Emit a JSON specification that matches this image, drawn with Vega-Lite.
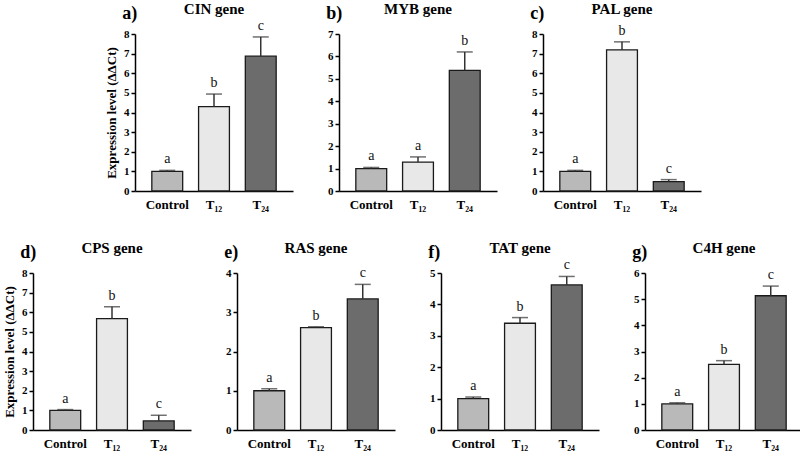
{
  "$schema": "https://vega.github.io/schema/vega-lite/v6.json",
  "padding": {"left": 3, "top": 2, "right": 2, "bottom": 2},
  "background": "white",
  "datasets": {
    "expr": [
      {"panel": "a)", "gene": "CIN gene", "treatment": "Control", "mean": 1.0, "upper": 1.05, "letter": "a"},
      {"panel": "a)", "gene": "CIN gene", "treatment": "T₁₂", "mean": 4.3, "upper": 4.94, "letter": "b"},
      {"panel": "a)", "gene": "CIN gene", "treatment": "T₂₄", "mean": 6.87, "upper": 7.85, "letter": "c"},
      {"panel": "b)", "gene": "MYB gene", "treatment": "Control", "mean": 1.0, "upper": 1.05, "letter": "a"},
      {"panel": "b)", "gene": "MYB gene", "treatment": "T₁₂", "mean": 1.29, "upper": 1.52, "letter": "a"},
      {"panel": "b)", "gene": "MYB gene", "treatment": "T₂₄", "mean": 5.38, "upper": 6.2, "letter": "b"},
      {"panel": "c)", "gene": "PAL gene", "treatment": "Control", "mean": 1.0, "upper": 1.05, "letter": "a"},
      {"panel": "c)", "gene": "PAL gene", "treatment": "T₁₂", "mean": 7.19, "upper": 7.6, "letter": "b"},
      {"panel": "c)", "gene": "PAL gene", "treatment": "T₂₄", "mean": 0.48, "upper": 0.58, "letter": "c"},
      {"panel": "d)", "gene": "CPS gene", "treatment": "Control", "mean": 1.0, "upper": 1.04, "letter": "a"},
      {"panel": "d)", "gene": "CPS gene", "treatment": "T₁₂", "mean": 5.68, "upper": 6.28, "letter": "b"},
      {"panel": "d)", "gene": "CPS gene", "treatment": "T₂₄", "mean": 0.46, "upper": 0.75, "letter": "c"},
      {"panel": "e)", "gene": "RAS gene", "treatment": "Control", "mean": 1.0, "upper": 1.05, "letter": "a"},
      {"panel": "e)", "gene": "RAS gene", "treatment": "T₁₂", "mean": 2.61, "upper": 2.63, "letter": "b"},
      {"panel": "e)", "gene": "RAS gene", "treatment": "T₂₄", "mean": 3.34, "upper": 3.71, "letter": "c"},
      {"panel": "f)", "gene": "TAT gene", "treatment": "Control", "mean": 1.0, "upper": 1.05, "letter": "a"},
      {"panel": "f)", "gene": "TAT gene", "treatment": "T₁₂", "mean": 3.4, "upper": 3.58, "letter": "b"},
      {"panel": "f)", "gene": "TAT gene", "treatment": "T₂₄", "mean": 4.62, "upper": 4.89, "letter": "c"},
      {"panel": "g)", "gene": "C4H gene", "treatment": "Control", "mean": 1.0, "upper": 1.04, "letter": "a"},
      {"panel": "g)", "gene": "C4H gene", "treatment": "T₁₂", "mean": 2.51, "upper": 2.65, "letter": "b"},
      {"panel": "g)", "gene": "C4H gene", "treatment": "T₂₄", "mean": 5.13, "upper": 5.5, "letter": "c"}
    ]
  },
  "vconcat": [
    {
      "spacing": 33,
      "hconcat": [
        {
          "width": 158, "height": 157,
          "data": {"name": "expr"},
          "transform": [{"filter": "datum.panel == 'a)'"}],
          "encoding": {"x": {"field": "treatment", "type": "nominal", "sort": ["Control", "T₁₂", "T₂₄"], "scale": {"paddingInner": 0.34, "paddingOuter": 0.36}}},
          "layer": [
            {"mark": {"type": "bar", "stroke": "#1a1a1a", "strokeWidth": 1.3},
             "encoding": {"y": {"field": "mean", "type": "quantitative", "scale": {"domain": [0, 8], "nice": false}, "axis": {"values": [0, 1, 2, 3, 4, 5, 6, 7, 8], "title": "Expression level (ΔΔCt)"}},
                          "fill": {"field": "treatment", "type": "nominal", "scale": {"domain": ["Control", "T₁₂", "T₂₄"], "range": ["#b9b9b9", "#e8e8e8", "#6c6c6c"]}, "legend": null}}},
            {"mark": {"type": "rule", "color": "#333333", "strokeWidth": 1.5}, "encoding": {"y": {"field": "mean", "type": "quantitative", "axis": {"values": [0, 1, 2, 3, 4, 5, 6, 7, 8], "title": "Expression level (ΔΔCt)"}}, "y2": {"field": "upper"}}},
            {"mark": {"type": "tick", "color": "#333333", "thickness": 1.5, "size": 16}, "encoding": {"y": {"field": "upper", "type": "quantitative", "axis": {"values": [0, 1, 2, 3, 4, 5, 6, 7, 8], "title": "Expression level (ΔΔCt)"}}}},
            {"mark": {"type": "text", "fontSize": 14, "dy": -7, "baseline": "alphabetic", "color": "#111111"}, "encoding": {"y": {"field": "upper", "type": "quantitative", "axis": {"values": [0, 1, 2, 3, 4, 5, 6, 7, 8], "title": "Expression level (ΔΔCt)"}}, "text": {"field": "letter"}}},
            {"transform": [{"filter": "datum.treatment == 'Control'"}], "mark": {"type": "text", "fontSize": 15, "fontWeight": "bold", "dy": -20, "baseline": "alphabetic", "color": "#000000"}, "encoding": {"x": {"datum": "T₁₂"}, "y": {"datum": 8, "type": "quantitative", "axis": {"values": [0, 1, 2, 3, 4, 5, 6, 7, 8], "title": "Expression level (ΔΔCt)"}}, "text": {"field": "gene"}}},
            {"transform": [{"filter": "datum.treatment == 'Control'"}], "mark": {"type": "text", "fontSize": 18, "fontWeight": "bold", "dx": -45, "dy": -15, "align": "left", "baseline": "alphabetic", "color": "#000000"}, "encoding": {"x": {"datum": "Control"}, "y": {"datum": 8, "type": "quantitative", "axis": {"values": [0, 1, 2, 3, 4, 5, 6, 7, 8], "title": "Expression level (ΔΔCt)"}}, "text": {"field": "panel"}}}
          ]
        },
        {
          "width": 158, "height": 157,
          "data": {"name": "expr"},
          "transform": [{"filter": "datum.panel == 'b)'"}],
          "encoding": {"x": {"field": "treatment", "type": "nominal", "sort": ["Control", "T₁₂", "T₂₄"], "scale": {"paddingInner": 0.34, "paddingOuter": 0.36}}},
          "layer": [
            {"mark": {"type": "bar", "stroke": "#1a1a1a", "strokeWidth": 1.3},
             "encoding": {"y": {"field": "mean", "type": "quantitative", "scale": {"domain": [0, 7], "nice": false}, "axis": {"values": [0, 1, 2, 3, 4, 5, 6, 7], "title": null}},
                          "fill": {"field": "treatment", "type": "nominal", "scale": {"domain": ["Control", "T₁₂", "T₂₄"], "range": ["#b9b9b9", "#e8e8e8", "#6c6c6c"]}, "legend": null}}},
            {"mark": {"type": "rule", "color": "#333333", "strokeWidth": 1.5}, "encoding": {"y": {"field": "mean", "type": "quantitative", "axis": {"values": [0, 1, 2, 3, 4, 5, 6, 7], "title": null}}, "y2": {"field": "upper"}}},
            {"mark": {"type": "tick", "color": "#333333", "thickness": 1.5, "size": 16}, "encoding": {"y": {"field": "upper", "type": "quantitative", "axis": {"values": [0, 1, 2, 3, 4, 5, 6, 7], "title": null}}}},
            {"mark": {"type": "text", "fontSize": 14, "dy": -7, "baseline": "alphabetic", "color": "#111111"}, "encoding": {"y": {"field": "upper", "type": "quantitative", "axis": {"values": [0, 1, 2, 3, 4, 5, 6, 7], "title": null}}, "text": {"field": "letter"}}},
            {"transform": [{"filter": "datum.treatment == 'Control'"}], "mark": {"type": "text", "fontSize": 15, "fontWeight": "bold", "dy": -20, "baseline": "alphabetic", "color": "#000000"}, "encoding": {"x": {"datum": "T₁₂"}, "y": {"datum": 7, "type": "quantitative", "axis": {"values": [0, 1, 2, 3, 4, 5, 6, 7], "title": null}}, "text": {"field": "gene"}}},
            {"transform": [{"filter": "datum.treatment == 'Control'"}], "mark": {"type": "text", "fontSize": 18, "fontWeight": "bold", "dx": -45, "dy": -15, "align": "left", "baseline": "alphabetic", "color": "#000000"}, "encoding": {"x": {"datum": "Control"}, "y": {"datum": 7, "type": "quantitative", "axis": {"values": [0, 1, 2, 3, 4, 5, 6, 7], "title": null}}, "text": {"field": "panel"}}}
          ]
        },
        {
          "width": 158, "height": 157,
          "data": {"name": "expr"},
          "transform": [{"filter": "datum.panel == 'c)'"}],
          "encoding": {"x": {"field": "treatment", "type": "nominal", "sort": ["Control", "T₁₂", "T₂₄"], "scale": {"paddingInner": 0.34, "paddingOuter": 0.36}}},
          "layer": [
            {"mark": {"type": "bar", "stroke": "#1a1a1a", "strokeWidth": 1.3},
             "encoding": {"y": {"field": "mean", "type": "quantitative", "scale": {"domain": [0, 8], "nice": false}, "axis": {"values": [0, 1, 2, 3, 4, 5, 6, 7, 8], "title": null}},
                          "fill": {"field": "treatment", "type": "nominal", "scale": {"domain": ["Control", "T₁₂", "T₂₄"], "range": ["#b9b9b9", "#e8e8e8", "#6c6c6c"]}, "legend": null}}},
            {"mark": {"type": "rule", "color": "#333333", "strokeWidth": 1.5}, "encoding": {"y": {"field": "mean", "type": "quantitative", "axis": {"values": [0, 1, 2, 3, 4, 5, 6, 7, 8], "title": null}}, "y2": {"field": "upper"}}},
            {"mark": {"type": "tick", "color": "#333333", "thickness": 1.5, "size": 16}, "encoding": {"y": {"field": "upper", "type": "quantitative", "axis": {"values": [0, 1, 2, 3, 4, 5, 6, 7, 8], "title": null}}}},
            {"mark": {"type": "text", "fontSize": 14, "dy": -7, "baseline": "alphabetic", "color": "#111111"}, "encoding": {"y": {"field": "upper", "type": "quantitative", "axis": {"values": [0, 1, 2, 3, 4, 5, 6, 7, 8], "title": null}}, "text": {"field": "letter"}}},
            {"transform": [{"filter": "datum.treatment == 'Control'"}], "mark": {"type": "text", "fontSize": 15, "fontWeight": "bold", "dy": -20, "baseline": "alphabetic", "color": "#000000"}, "encoding": {"x": {"datum": "T₁₂"}, "y": {"datum": 8, "type": "quantitative", "axis": {"values": [0, 1, 2, 3, 4, 5, 6, 7, 8], "title": null}}, "text": {"field": "gene"}}},
            {"transform": [{"filter": "datum.treatment == 'Control'"}], "mark": {"type": "text", "fontSize": 18, "fontWeight": "bold", "dx": -45, "dy": -15, "align": "left", "baseline": "alphabetic", "color": "#000000"}, "encoding": {"x": {"datum": "Control"}, "y": {"datum": 8, "type": "quantitative", "axis": {"values": [0, 1, 2, 3, 4, 5, 6, 7, 8], "title": null}}, "text": {"field": "panel"}}}
          ]
        }
      ]
    },
    {
      "spacing": 33,
      "hconcat": [
        {
          "width": 158, "height": 157,
          "data": {"name": "expr"},
          "transform": [{"filter": "datum.panel == 'd)'"}],
          "encoding": {"x": {"field": "treatment", "type": "nominal", "sort": ["Control", "T₁₂", "T₂₄"], "scale": {"paddingInner": 0.34, "paddingOuter": 0.36}}},
          "layer": [
            {"mark": {"type": "bar", "stroke": "#1a1a1a", "strokeWidth": 1.3},
             "encoding": {"y": {"field": "mean", "type": "quantitative", "scale": {"domain": [0, 8], "nice": false}, "axis": {"values": [0, 1, 2, 3, 4, 5, 6, 7, 8], "title": "Expression level (ΔΔCt)"}},
                          "fill": {"field": "treatment", "type": "nominal", "scale": {"domain": ["Control", "T₁₂", "T₂₄"], "range": ["#b9b9b9", "#e8e8e8", "#6c6c6c"]}, "legend": null}}},
            {"mark": {"type": "rule", "color": "#333333", "strokeWidth": 1.5}, "encoding": {"y": {"field": "mean", "type": "quantitative", "axis": {"values": [0, 1, 2, 3, 4, 5, 6, 7, 8], "title": "Expression level (ΔΔCt)"}}, "y2": {"field": "upper"}}},
            {"mark": {"type": "tick", "color": "#333333", "thickness": 1.5, "size": 16}, "encoding": {"y": {"field": "upper", "type": "quantitative", "axis": {"values": [0, 1, 2, 3, 4, 5, 6, 7, 8], "title": "Expression level (ΔΔCt)"}}}},
            {"mark": {"type": "text", "fontSize": 14, "dy": -7, "baseline": "alphabetic", "color": "#111111"}, "encoding": {"y": {"field": "upper", "type": "quantitative", "axis": {"values": [0, 1, 2, 3, 4, 5, 6, 7, 8], "title": "Expression level (ΔΔCt)"}}, "text": {"field": "letter"}}},
            {"transform": [{"filter": "datum.treatment == 'Control'"}], "mark": {"type": "text", "fontSize": 15, "fontWeight": "bold", "dy": -20, "baseline": "alphabetic", "color": "#000000"}, "encoding": {"x": {"datum": "T₁₂"}, "y": {"datum": 8, "type": "quantitative", "axis": {"values": [0, 1, 2, 3, 4, 5, 6, 7, 8], "title": "Expression level (ΔΔCt)"}}, "text": {"field": "gene"}}},
            {"transform": [{"filter": "datum.treatment == 'Control'"}], "mark": {"type": "text", "fontSize": 18, "fontWeight": "bold", "dx": -45, "dy": -15, "align": "left", "baseline": "alphabetic", "color": "#000000"}, "encoding": {"x": {"datum": "Control"}, "y": {"datum": 8, "type": "quantitative", "axis": {"values": [0, 1, 2, 3, 4, 5, 6, 7, 8], "title": "Expression level (ΔΔCt)"}}, "text": {"field": "panel"}}}
          ]
        },
        {
          "width": 158, "height": 157,
          "data": {"name": "expr"},
          "transform": [{"filter": "datum.panel == 'e)'"}],
          "encoding": {"x": {"field": "treatment", "type": "nominal", "sort": ["Control", "T₁₂", "T₂₄"], "scale": {"paddingInner": 0.34, "paddingOuter": 0.36}}},
          "layer": [
            {"mark": {"type": "bar", "stroke": "#1a1a1a", "strokeWidth": 1.3},
             "encoding": {"y": {"field": "mean", "type": "quantitative", "scale": {"domain": [0, 4], "nice": false}, "axis": {"values": [0, 1, 2, 3, 4], "title": null}},
                          "fill": {"field": "treatment", "type": "nominal", "scale": {"domain": ["Control", "T₁₂", "T₂₄"], "range": ["#b9b9b9", "#e8e8e8", "#6c6c6c"]}, "legend": null}}},
            {"mark": {"type": "rule", "color": "#333333", "strokeWidth": 1.5}, "encoding": {"y": {"field": "mean", "type": "quantitative", "axis": {"values": [0, 1, 2, 3, 4], "title": null}}, "y2": {"field": "upper"}}},
            {"mark": {"type": "tick", "color": "#333333", "thickness": 1.5, "size": 16}, "encoding": {"y": {"field": "upper", "type": "quantitative", "axis": {"values": [0, 1, 2, 3, 4], "title": null}}}},
            {"mark": {"type": "text", "fontSize": 14, "dy": -7, "baseline": "alphabetic", "color": "#111111"}, "encoding": {"y": {"field": "upper", "type": "quantitative", "axis": {"values": [0, 1, 2, 3, 4], "title": null}}, "text": {"field": "letter"}}},
            {"transform": [{"filter": "datum.treatment == 'Control'"}], "mark": {"type": "text", "fontSize": 15, "fontWeight": "bold", "dy": -20, "baseline": "alphabetic", "color": "#000000"}, "encoding": {"x": {"datum": "T₁₂"}, "y": {"datum": 4, "type": "quantitative", "axis": {"values": [0, 1, 2, 3, 4], "title": null}}, "text": {"field": "gene"}}},
            {"transform": [{"filter": "datum.treatment == 'Control'"}], "mark": {"type": "text", "fontSize": 18, "fontWeight": "bold", "dx": -45, "dy": -15, "align": "left", "baseline": "alphabetic", "color": "#000000"}, "encoding": {"x": {"datum": "Control"}, "y": {"datum": 4, "type": "quantitative", "axis": {"values": [0, 1, 2, 3, 4], "title": null}}, "text": {"field": "panel"}}}
          ]
        },
        {
          "width": 158, "height": 157,
          "data": {"name": "expr"},
          "transform": [{"filter": "datum.panel == 'f)'"}],
          "encoding": {"x": {"field": "treatment", "type": "nominal", "sort": ["Control", "T₁₂", "T₂₄"], "scale": {"paddingInner": 0.34, "paddingOuter": 0.36}}},
          "layer": [
            {"mark": {"type": "bar", "stroke": "#1a1a1a", "strokeWidth": 1.3},
             "encoding": {"y": {"field": "mean", "type": "quantitative", "scale": {"domain": [0, 5], "nice": false}, "axis": {"values": [0, 1, 2, 3, 4, 5], "title": null}},
                          "fill": {"field": "treatment", "type": "nominal", "scale": {"domain": ["Control", "T₁₂", "T₂₄"], "range": ["#b9b9b9", "#e8e8e8", "#6c6c6c"]}, "legend": null}}},
            {"mark": {"type": "rule", "color": "#333333", "strokeWidth": 1.5}, "encoding": {"y": {"field": "mean", "type": "quantitative", "axis": {"values": [0, 1, 2, 3, 4, 5], "title": null}}, "y2": {"field": "upper"}}},
            {"mark": {"type": "tick", "color": "#333333", "thickness": 1.5, "size": 16}, "encoding": {"y": {"field": "upper", "type": "quantitative", "axis": {"values": [0, 1, 2, 3, 4, 5], "title": null}}}},
            {"mark": {"type": "text", "fontSize": 14, "dy": -7, "baseline": "alphabetic", "color": "#111111"}, "encoding": {"y": {"field": "upper", "type": "quantitative", "axis": {"values": [0, 1, 2, 3, 4, 5], "title": null}}, "text": {"field": "letter"}}},
            {"transform": [{"filter": "datum.treatment == 'Control'"}], "mark": {"type": "text", "fontSize": 15, "fontWeight": "bold", "dy": -20, "baseline": "alphabetic", "color": "#000000"}, "encoding": {"x": {"datum": "T₁₂"}, "y": {"datum": 5, "type": "quantitative", "axis": {"values": [0, 1, 2, 3, 4, 5], "title": null}}, "text": {"field": "gene"}}},
            {"transform": [{"filter": "datum.treatment == 'Control'"}], "mark": {"type": "text", "fontSize": 18, "fontWeight": "bold", "dx": -45, "dy": -15, "align": "left", "baseline": "alphabetic", "color": "#000000"}, "encoding": {"x": {"datum": "Control"}, "y": {"datum": 5, "type": "quantitative", "axis": {"values": [0, 1, 2, 3, 4, 5], "title": null}}, "text": {"field": "panel"}}}
          ]
        },
        {
          "width": 158, "height": 157,
          "data": {"name": "expr"},
          "transform": [{"filter": "datum.panel == 'g)'"}],
          "encoding": {"x": {"field": "treatment", "type": "nominal", "sort": ["Control", "T₁₂", "T₂₄"], "scale": {"paddingInner": 0.34, "paddingOuter": 0.36}}},
          "layer": [
            {"mark": {"type": "bar", "stroke": "#1a1a1a", "strokeWidth": 1.3},
             "encoding": {"y": {"field": "mean", "type": "quantitative", "scale": {"domain": [0, 6], "nice": false}, "axis": {"values": [0, 1, 2, 3, 4, 5, 6], "title": null}},
                          "fill": {"field": "treatment", "type": "nominal", "scale": {"domain": ["Control", "T₁₂", "T₂₄"], "range": ["#b9b9b9", "#e8e8e8", "#6c6c6c"]}, "legend": null}}},
            {"mark": {"type": "rule", "color": "#333333", "strokeWidth": 1.5}, "encoding": {"y": {"field": "mean", "type": "quantitative", "axis": {"values": [0, 1, 2, 3, 4, 5, 6], "title": null}}, "y2": {"field": "upper"}}},
            {"mark": {"type": "tick", "color": "#333333", "thickness": 1.5, "size": 16}, "encoding": {"y": {"field": "upper", "type": "quantitative", "axis": {"values": [0, 1, 2, 3, 4, 5, 6], "title": null}}}},
            {"mark": {"type": "text", "fontSize": 14, "dy": -7, "baseline": "alphabetic", "color": "#111111"}, "encoding": {"y": {"field": "upper", "type": "quantitative", "axis": {"values": [0, 1, 2, 3, 4, 5, 6], "title": null}}, "text": {"field": "letter"}}},
            {"transform": [{"filter": "datum.treatment == 'Control'"}], "mark": {"type": "text", "fontSize": 15, "fontWeight": "bold", "dy": -20, "baseline": "alphabetic", "color": "#000000"}, "encoding": {"x": {"datum": "T₁₂"}, "y": {"datum": 6, "type": "quantitative", "axis": {"values": [0, 1, 2, 3, 4, 5, 6], "title": null}}, "text": {"field": "gene"}}},
            {"transform": [{"filter": "datum.treatment == 'Control'"}], "mark": {"type": "text", "fontSize": 18, "fontWeight": "bold", "dx": -45, "dy": -15, "align": "left", "baseline": "alphabetic", "color": "#000000"}, "encoding": {"x": {"datum": "Control"}, "y": {"datum": 6, "type": "quantitative", "axis": {"values": [0, 1, 2, 3, 4, 5, 6], "title": null}}, "text": {"field": "panel"}}}
          ]
        }
      ]
    }
  ],
  "spacing": 30,
  "center": true,
  "config": {
    "font": "Liberation Serif, Times New Roman, Tinos, DejaVu Serif, serif",
    "text": {"font": "Liberation Serif, Times New Roman, Tinos, DejaVu Serif, serif"},
    "view": {"stroke": null},
    "axis": {"domainColor": "#000000", "domainWidth": 1.5, "tickColor": "#000000", "tickWidth": 1.5, "labelColor": "#000000", "labelFont": "Liberation Serif, Times New Roman, Tinos, DejaVu Serif, serif", "labelFontWeight": "bold", "titleFont": "Liberation Serif, Times New Roman, Tinos, DejaVu Serif, serif", "titleFontWeight": "bold", "titleColor": "#000000", "grid": false, "labelOverlap": false},
    "axisX": {"ticks": false, "labelAngle": 0, "labelFontSize": 13, "labelPadding": 7, "title": null},
    "axisY": {"tickSize": 4, "labelFontSize": 11, "labelPadding": 2, "titleFontSize": 13, "titlePadding": 5}
  }
}
